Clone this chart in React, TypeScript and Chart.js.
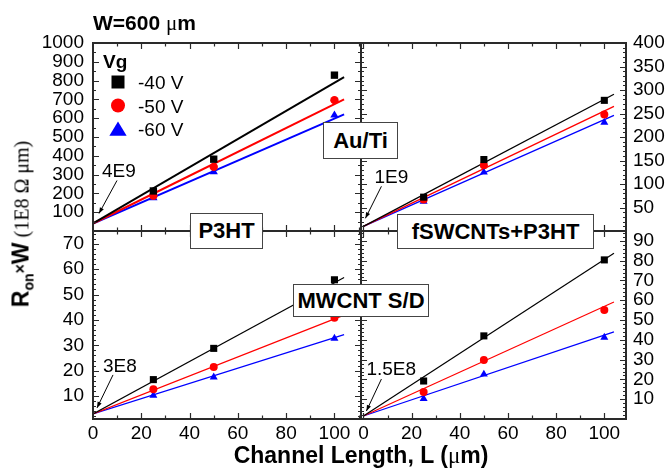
import React, { useEffect, useRef } from 'react';
import { Chart, registerables } from 'chart.js';

Chart.register(...registerables);

// ---------- data (units: 1E8 Ω·μm, channel length in μm) ----------
const seriesLabels = ['-40 V', '-50 V', '-60 V'];
const seriesColors = ['#000000', '#ff0000', '#0000ff'];
const seriesMarkers = ['rect', 'circle', 'triangle'];

const channelLengths = [25, 50, 100];
const fitLengths = [0, 104];

// Au/Ti S/D, P3HT (top-left)
const auP3htV40 = [213, 382, 829];
const auP3htV50 = [188, 341, 696];
const auP3htV60 = [176, 314, 616];
const auP3htFitV40 = [40, 818];
const auP3htFitV50 = [40, 700];
const auP3htFitV60 = [40, 620];

// Au/Ti S/D, fSWCNTs+P3HT (top-right)
const auFswV40 = [72, 152, 278];
const auFswV50 = [67, 140, 248];
const auFswV60 = [63, 125, 231];
const auFswFitV40 = [10, 291];
const auFswFitV50 = [10, 265];
const auFswFitV60 = [10, 246];

// MWCNT S/D, P3HT (bottom-left)
const mwP3htV40 = [16.5, 28.8, 55.8];
const mwP3htV50 = [12.7, 21.5, 40.9];
const mwP3htV60 = [10.3, 17.5, 32.7];
const mwP3htFitV40 = [3, 56.7];
const mwP3htFitV50 = [3, 41.9];
const mwP3htFitV60 = [3, 34.2];

// MWCNT S/D, fSWCNTs+P3HT (bottom-right)
const mwFswV40 = [19.2, 42, 80.4];
const mwFswV50 = [13.7, 29.8, 55.1];
const mwFswV60 = [10.3, 22.6, 41.2];
const mwFswFitV40 = [1.5, 83.7];
const mwFswFitV50 = [1.5, 59.1];
const mwFswFitV60 = [1.5, 44];

// ticks
const xTickLabels = [0, 20, 40, 60, 80, 100];
const xMinorTicks = [10, 30, 50, 70, 90, 110];
const auP3htYTicks = [100, 200, 300, 400, 500, 600, 700, 800, 900, 1000];
const auFswYTicks = [50, 100, 150, 200, 250, 300, 350, 400];
const mwP3htYTicks = [10, 20, 30, 40, 50, 60, 70];
const mwFswYTicks = [10, 20, 30, 40, 50, 60, 70, 80, 90];

const interceptNotes = ['4E9', '1E9', '3E8', '1.5E8'];

// ---------- styling / layout ----------
const SANS = '"Liberation Sans", Arial, Helvetica, sans-serif';
const SERIF = '"Liberation Serif", "Times New Roman", serif';
const W = 669;
const H = 470;

type Panel = {
  key: string;
  padding: { left: number; right: number; top: number; bottom: number };
  yPos: 'left' | 'right';
  yAxisWidth: number;
  yTickPad: number;
  showX: boolean;
  xMin: number;
  xMax: number;
  yMin: number;
  yMax: number;
  yTicks: number[];
  yMinorStep: number;
  points: number[][];
  fits: number[][];
  lineWidth: number;
  note: string;
  noteOff: { tip: [number, number]; tail: [number, number]; text: [number, number] };
  legend: boolean;
  sizes: number[];
};

const panels: Panel[] = [
  {
    key: 'tl',
    padding: { left: 0, right: 308, top: 43, bottom: 239 },
    yPos: 'left', yAxisWidth: 93, yTickPad: 9, showX: false,
    xMin: 0, xMax: 111, yMin: 0, yMax: 1000,
    yTicks: auP3htYTicks, yMinorStep: 50,
    points: [auP3htV40, auP3htV50, auP3htV60],
    fits: [auP3htFitV40, auP3htFitV50, auP3htFitV60],
    lineWidth: 2, note: interceptNotes[0],
    noteOff: { tip: [6, -10], tail: [24, -43], text: [9, -46] },
    legend: true, sizes: [5.2, 4.2, 4.8],
  },
  {
    key: 'tr',
    padding: { left: 361, right: 0, top: 43, bottom: 239 },
    yPos: 'right', yAxisWidth: 43, yTickPad: 7, showX: false,
    xMin: -1, xMax: 109, yMin: 0, yMax: 400,
    yTicks: auFswYTicks, yMinorStep: 10,
    points: [auFswV40, auFswV50, auFswV60],
    fits: [auFswFitV40, auFswFitV50, auFswFitV60],
    lineWidth: 1.3, note: interceptNotes[1],
    noteOff: { tip: [2, -8], tail: [18, -40], text: [11, -43] },
    legend: false, sizes: [5, 4, 4.6],
  },
  {
    key: 'bl',
    padding: { left: 0, right: 308, top: 231, bottom: 0 },
    yPos: 'left', yAxisWidth: 93, yTickPad: 9, showX: true,
    xMin: 0, xMax: 111, yMin: 1, yMax: 75,
    yTicks: mwP3htYTicks, yMinorStep: 2,
    points: [mwP3htV40, mwP3htV50, mwP3htV60],
    fits: [mwP3htFitV40, mwP3htFitV50, mwP3htFitV60],
    lineWidth: 1.2, note: interceptNotes[2],
    noteOff: { tip: [4, -6], tail: [20, -39], text: [10, -42] },
    legend: false, sizes: [5, 4, 4.6],
  },
  {
    key: 'br',
    padding: { left: 361, right: 0, top: 231, bottom: 0 },
    yPos: 'right', yAxisWidth: 43, yTickPad: 7, showX: true,
    xMin: -1, xMax: 109, yMin: 0, yMax: 95,
    yTicks: mwFswYTicks, yMinorStep: 2,
    points: [mwFswV40, mwFswV50, mwFswV60],
    fits: [mwFswFitV40, mwFswFitV50, mwFswFitV60],
    lineWidth: 1.2, note: interceptNotes[3],
    noteOff: { tip: [3, -5], tail: [18, -37], text: [3, -41] },
    legend: false, sizes: [5, 4, 4.6],
  },
];

function drawMarker(ctx: CanvasRenderingContext2D, style: string, x: number, y: number, s: number, color: string) {
  ctx.fillStyle = color;
  ctx.beginPath();
  if (style === 'rect') {
    ctx.rect(x - s, y - s, 2 * s, 2 * s);
  } else if (style === 'circle') {
    ctx.arc(x, y, s, 0, Math.PI * 2);
  } else {
    ctx.moveTo(x, y - s);
    ctx.lineTo(x + s * 1.15, y + s * 0.9);
    ctx.lineTo(x - s * 1.15, y + s * 0.9);
    ctx.closePath();
  }
  ctx.fill();
}

function makeDecor(panel: Panel) {
  return {
    id: 'decor_' + panel.key,
    afterDatasetsDraw(chart: any) {
      const { ctx, chartArea: a, scales } = chart;
      const xs = scales.x;
      const ys = scales.y;
      ctx.save();
      ctx.strokeStyle = '#2a2a2a';
      ctx.lineWidth = 1.2;
      const vTick = (v: number, len: number) => {
        const px = Math.round(xs.getPixelForValue(v)) + 0.5;
        if (px < a.left + 1 || px > a.right - 1) return;
        ctx.beginPath();
        ctx.moveTo(px, a.bottom); ctx.lineTo(px, a.bottom - len);
        ctx.moveTo(px, a.top); ctx.lineTo(px, a.top + len);
        ctx.stroke();
      };
      xTickLabels.forEach((v) => vTick(v, 6));
      xMinorTicks.forEach((v) => vTick(v, 3.5));
      const hTick = (v: number, len: number) => {
        const py = Math.round(ys.getPixelForValue(v)) + 0.5;
        if (py < a.top + 1 || py > a.bottom - 1) return;
        ctx.beginPath();
        ctx.moveTo(a.left, py); ctx.lineTo(a.left + len, py);
        ctx.moveTo(a.right, py); ctx.lineTo(a.right - len, py);
        ctx.stroke();
      };
      for (let v = Math.ceil(panel.yMin / panel.yMinorStep) * panel.yMinorStep; v <= panel.yMax; v += panel.yMinorStep) {
        hTick(v, 3);
      }
      panel.yTicks.forEach((v) => hTick(v, 6));
      ctx.lineWidth = 2;
      ctx.strokeRect(a.left, a.top, a.right - a.left, a.bottom - a.top);

      // intercept annotation with arrow
      const x0 = xs.getPixelForValue(0);
      const y0 = ys.getPixelForValue(panel.fits[0][0]);
      const tip = [x0 + panel.noteOff.tip[0], y0 + panel.noteOff.tip[1]];
      const tail = [x0 + panel.noteOff.tail[0], y0 + panel.noteOff.tail[1]];
      ctx.strokeStyle = '#000';
      ctx.lineWidth = 1;
      ctx.beginPath();
      ctx.moveTo(tail[0], tail[1]);
      ctx.lineTo(tip[0], tip[1]);
      ctx.stroke();
      const ang = Math.atan2(tip[1] - tail[1], tip[0] - tail[0]);
      ctx.fillStyle = '#000';
      ctx.beginPath();
      ctx.moveTo(tip[0], tip[1]);
      ctx.lineTo(tip[0] - 6 * Math.cos(ang) + 2.2 * Math.sin(ang), tip[1] - 6 * Math.sin(ang) - 2.2 * Math.cos(ang));
      ctx.lineTo(tip[0] - 6 * Math.cos(ang) - 2.2 * Math.sin(ang), tip[1] - 6 * Math.sin(ang) + 2.2 * Math.cos(ang));
      ctx.closePath();
      ctx.fill();
      ctx.font = `19px ${SANS}`;
      ctx.textAlign = 'left';
      ctx.textBaseline = 'alphabetic';
      ctx.fillText(panel.note, x0 + panel.noteOff.text[0], y0 + panel.noteOff.text[1]);

      if (panel.legend) {
        const lx = a.left + 10;
        const ly = a.top + 25;
        ctx.font = `bold 19px ${SANS}`;
        ctx.fillText('Vg', lx, ly);
        const sizes = [6.5, 7, 7.5];
        for (let i = 0; i < 3; i++) {
          const ds = chart.data.datasets[i];
          const cy = ly + 14 + i * 23.5;
          drawMarker(ctx, seriesMarkers[i], lx + 15, cy, sizes[i], ds.pointBackgroundColor);
          ctx.fillStyle = '#000';
          ctx.font = `19px ${SANS}`;
          ctx.fillText(ds.label, lx + 35, cy + 7);
        }
      }
      ctx.restore();
    },
  };
}

function buildConfig(panel: Panel): any {
  const datasets: any[] = [];
  panel.points.forEach((vals, i) => {
    datasets.push({
      label: seriesLabels[i],
      data: channelLengths.map((x, j) => ({ x, y: vals[j] })),
      showLine: false,
      pointStyle: seriesMarkers[i],
      pointRadius: panel.sizes[i],
      pointBackgroundColor: seriesColors[i],
      pointBorderColor: seriesColors[i],
      pointBorderWidth: 0,
    });
  });
  panel.fits.forEach((vals, i) => {
    datasets.push({
      label: seriesLabels[i] + ' fit',
      data: fitLengths.map((x, j) => ({ x, y: vals[j] })),
      showLine: true,
      pointRadius: 0,
      borderColor: seriesColors[i],
      borderWidth: panel.lineWidth,
      fill: false,
    });
  });
  const tickFont = { family: SANS, size: 19 };
  return {
    type: 'scatter',
    data: { datasets },
    options: {
      responsive: false,
      animation: false,
      devicePixelRatio: 1,
      events: [],
      layout: { padding: panel.padding },
      plugins: { legend: { display: false }, tooltip: { enabled: false } },
      scales: {
        x: {
          type: 'linear',
          position: 'bottom',
          display: panel.showX,
          min: panel.xMin,
          max: panel.xMax,
          grid: { display: false, drawTicks: false },
          border: { display: false },
          ticks: { color: '#000', font: tickFont, padding: 3, maxRotation: 0, autoSkip: false, callback: (v: any) => String(v) },
          afterBuildTicks: (s: any) => { s.ticks = xTickLabels.map((v) => ({ value: v })); },
          afterFit: (s: any) => { s.height = panel.showX ? H - 419 : 0; },
        },
        y: {
          type: 'linear',
          position: panel.yPos,
          min: panel.yMin,
          max: panel.yMax,
          grid: { display: false, drawTicks: false },
          border: { display: false },
          ticks: { color: '#000', font: tickFont, padding: panel.yTickPad, autoSkip: false, callback: (v: any) => String(v) },
          afterBuildTicks: (s: any) => { s.ticks = panel.yTicks.map((v) => ({ value: v })); },
          afterFit: (s: any) => { s.width = panel.yAxisWidth; },
        },
      },
    },
    plugins: [makeDecor(panel)],
  };
}

function PanelChart({ panel }: { panel: Panel }) {
  const ref = useRef<HTMLCanvasElement>(null);
  useEffect(() => {
    const chart = new Chart(ref.current as HTMLCanvasElement, buildConfig(panel));
    return () => chart.destroy();
  }, [panel]);
  return (
    <canvas
      ref={ref}
      width={W}
      height={H}
      style={{ position: 'absolute', left: 0, top: 0, width: W, height: H }}
    />
  );
}

function LabelBox({ left, top, width, height, text }: { left: number; top: number; width: number; height: number; text: string }) {
  return (
    <div
      style={{
        position: 'absolute', left, top, width, height, boxSizing: 'border-box',
        border: '1.5px solid #444', background: '#fff', display: 'flex',
        alignItems: 'center', justifyContent: 'center',
        font: `bold 22px ${SANS}`, color: '#000', whiteSpace: 'nowrap',
      }}
    >
      {text}
    </div>
  );
}

export default function App() {
  return (
    <div style={{ position: 'absolute', left: 0, top: 0, width: W, height: H, background: '#fff', overflow: 'hidden' }}>
      {panels.map((p) => (
        <PanelChart key={p.key} panel={p} />
      ))}
      <div style={{ position: 'absolute', left: 93, top: 12, font: `bold 21px ${SANS}`, lineHeight: '21px', whiteSpace: 'nowrap', color: '#000' }}>
        W=600 <span style={{ fontFamily: SERIF, fontWeight: 'normal' }}>μ</span>m
      </div>
      <LabelBox left={323} top={122} width={75} height={37} text="Au/Ti" />
      <LabelBox left={190} top={213} width={73} height={36} text="P3HT" />
      <LabelBox left={397} top={214} width={197} height={35} text="fSWCNTs+P3HT" />
      <LabelBox left={293} top={284} width={136} height={33} text="MWCNT S/D" />
      <div
        style={{
          position: 'absolute', left: 361, top: 455, transform: 'translate(-50%, -50%)',
          font: `bold 23px ${SANS}`, whiteSpace: 'nowrap', color: '#000', lineHeight: '24px',
        }}
      >
        Channel Length, L (<span style={{ fontFamily: SERIF, fontWeight: 'normal' }}>μ</span>m)
      </div>
      <div
        style={{
          position: 'absolute', left: 22, top: 224, transform: 'translate(-50%, -50%) rotate(-90deg)',
          whiteSpace: 'nowrap', color: '#000', lineHeight: '26px',
        }}
      >
        <span style={{ font: `bold 23px ${SANS}` }}>
          R<span style={{ fontSize: 14, position: 'relative', top: 5 }}>on</span>
          <span style={{ fontSize: 16, position: 'relative', top: -3 }}>×</span>W
        </span>
        <span style={{ font: `20px ${SERIF}` }}> (1E8 Ω μm)</span>
      </div>
    </div>
  );
}
